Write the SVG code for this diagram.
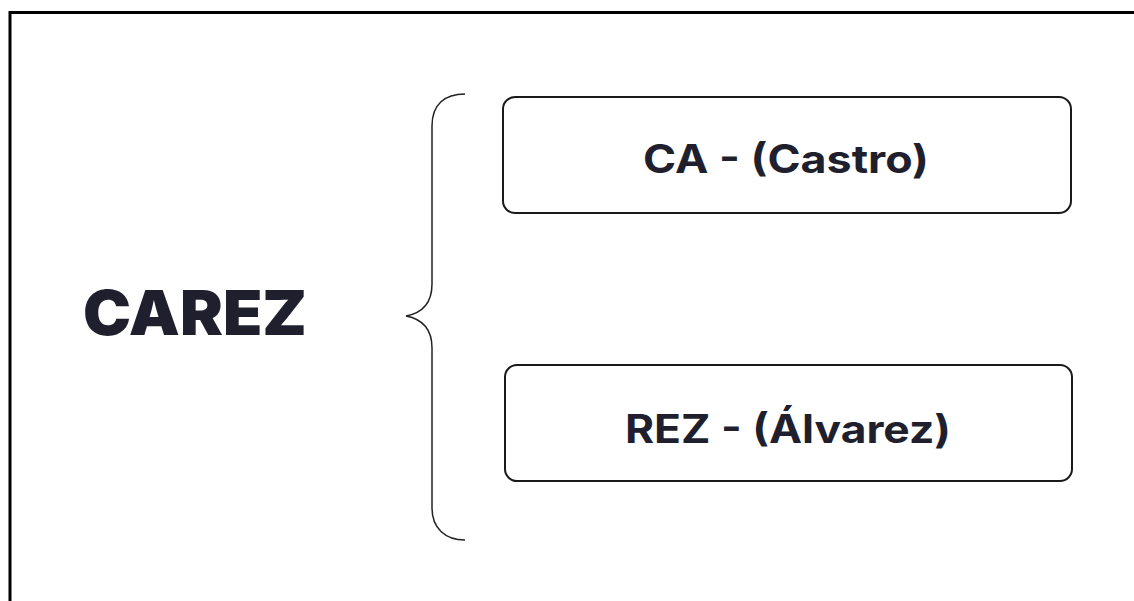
<svg xmlns="http://www.w3.org/2000/svg" width="1134" height="601" viewBox="0 0 1134 601">
  <style>
    .frame { fill: none; stroke: #000; stroke-width: 3; }
    .box { fill: #fff; stroke: #1a1a1a; stroke-width: 2; }
    .brace { fill: none; stroke: #222; stroke-width: 1.5; }
    .label { font-family: Inter, "Noto Sans", "Liberation Sans", sans-serif; fill: #1f1f2e; text-anchor: middle; }
    .title { font-size: 62px; font-weight: 900; }
    .item { font-size: 39px; font-weight: 700; }
  </style>
  <rect width="1134" height="601" fill="#fff"/>
  <!-- outer frame, open on the right and bottom -->
  <path class="frame" d="M10,601 V12.5 H1134"/>

  <g id="carez">
    <text class="label title" x="195" y="335" textLength="224" lengthAdjust="spacingAndGlyphs">CAREZ</text>
  </g>

  <g id="connectors">
    <path class="brace" d="M465,94 C445,94 432,104 432,126 V284 C432,304 422,313 406,316 C422,319 432,328 432,348 V508 C432,528 445,540 465,540"/>
  </g>

  <g id="castro">
    <rect class="box" x="503" y="97" width="568" height="116" rx="12"/>
    <text class="label item" x="786" y="173" textLength="286" lengthAdjust="spacingAndGlyphs">CA - (Castro)</text>
  </g>

  <g id="alvarez">
    <rect class="box" x="505" y="365" width="567" height="116" rx="12"/>
    <text class="label item" x="788" y="443" textLength="326" lengthAdjust="spacingAndGlyphs">REZ - (Álvarez)</text>
  </g>
</svg>
